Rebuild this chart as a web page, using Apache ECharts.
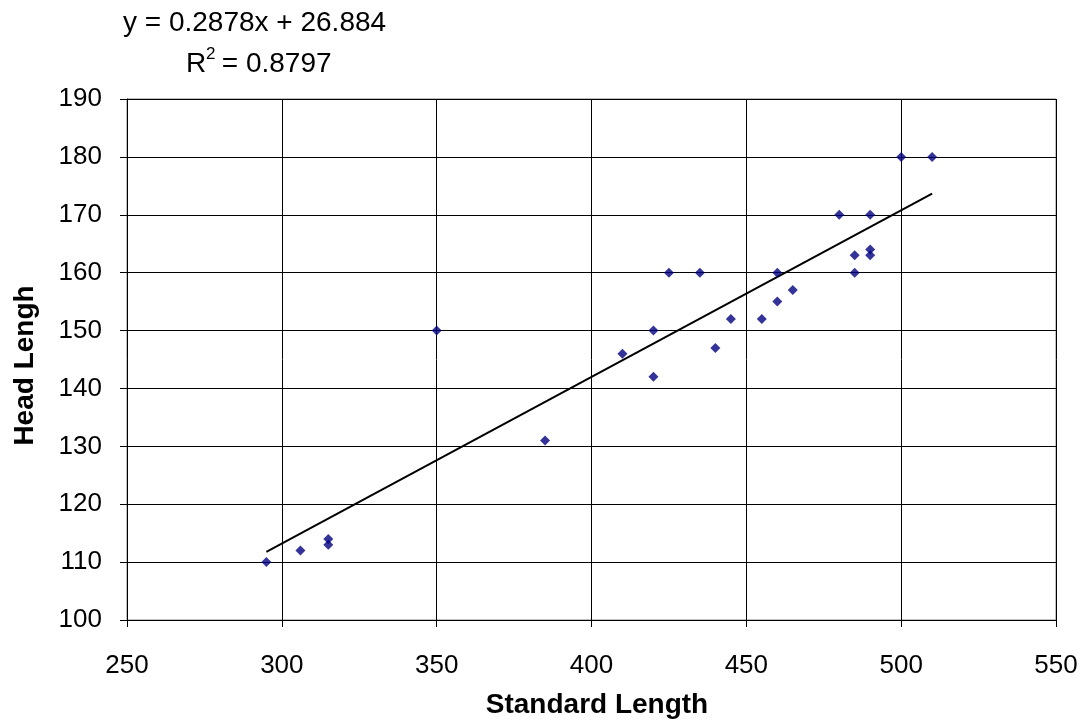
<!DOCTYPE html>
<html>
<head>
<meta charset="utf-8">
<script src="https://cdn.jsdelivr.net/npm/echarts@6/dist/echarts.min.js"></script>
<style>
html,body{margin:0;padding:0;background:#fff;}
#c{width:1086px;height:725px;}
</style>
</head>
<body>
<div id="c"></div>
<script>
// Data
var standardLength = [295, 306, 315, 315, 350, 385, 410, 420, 420, 425, 435, 440, 445, 455, 460, 460, 465, 480, 485, 485, 490, 490, 490, 500, 510];
var headLength     = [110, 112, 114, 113, 150, 131, 146, 150, 142, 160, 160, 147, 152, 152, 160, 155, 157, 170, 163, 160, 170, 164, 163, 180, 180];
var trendX = [295, 510];
var trendY = [111.78, 173.66];
var equationText = 'y = 0.2878x + 26.884';
var r2Value = '0.8797';
var xTicks = [250, 300, 350, 400, 450, 500, 550];
var yTicks = [100, 110, 120, 130, 140, 150, 160, 170, 180, 190];

var points = standardLength.map(function (x, i) { return [x, headLength[i]]; });
var trend = trendX.map(function (x, i) { return [x, trendY[i]]; });
var font = 'Liberation Sans, Arial, sans-serif';

var chart = echarts.init(document.getElementById('c'), null, {renderer: 'canvas'});
chart.setOption({
  animation: false,
  backgroundColor: '#ffffff',
  grid: {left: 127, right: 30, top: 99, bottom: 105, show: true, borderColor: '#808080', borderWidth: 1},
  graphic: [
    {type: 'text', left: 123, top: 9, style: {text: equationText, font: '28px ' + font, fill: '#000'}},
    {type: 'text', left: 186, top: 50, style: {text: 'R', font: '28px ' + font, fill: '#000'}},
    {type: 'text', left: 206, top: 46, style: {text: '2', font: '17px ' + font, fill: '#000'}},
    {type: 'text', left: 214, top: 50, style: {text: ' = ' + r2Value, font: '28px ' + font, fill: '#000'}}
  ],
  xAxis: {
    type: 'value', min: xTicks[0], max: xTicks[xTicks.length - 1], interval: 50,
    name: 'Standard Length', nameLocation: 'middle', nameGap: 71,
    nameTextStyle: {fontFamily: font, fontSize: 28, fontWeight: 'bold', color: '#000', padding: [0, 0, 0, 11]},
    axisLine: {show: true, onZero: false, lineStyle: {color: '#000', width: 1}},
    axisTick: {show: true, length: 7, lineStyle: {color: '#000'}},
    axisLabel: {fontFamily: font, fontSize: 26, color: '#000', margin: 33},
    splitLine: {show: true, lineStyle: {color: '#000', width: 1}}
  },
  yAxis: {
    type: 'value', min: yTicks[0], max: yTicks[yTicks.length - 1], interval: 10,
    name: 'Head Lengh', nameLocation: 'middle', nameGap: 88, nameRotate: 90,
    nameTextStyle: {fontFamily: font, fontSize: 28, fontWeight: 'bold', color: '#000', padding: [0, 12, 0, 0]},
    axisLine: {show: true, onZero: false, lineStyle: {color: '#000', width: 1}},
    axisTick: {show: true, length: 7, lineStyle: {color: '#000'}},
    axisLabel: {fontFamily: font, fontSize: 26, color: '#000', margin: 25},
    splitLine: {show: true, lineStyle: {color: '#000', width: 1}}
  },
  series: [{
    type: 'line', data: trend, showSymbol: false, symbol: 'none',
    lineStyle: {color: '#000', width: 2}, z: 2, silent: true
  }, {
    type: 'scatter', data: points, symbol: 'diamond', symbolSize: 10,
    itemStyle: {color: '#000080'}, z: 3
  }]
});
</script>
</body>
</html>
